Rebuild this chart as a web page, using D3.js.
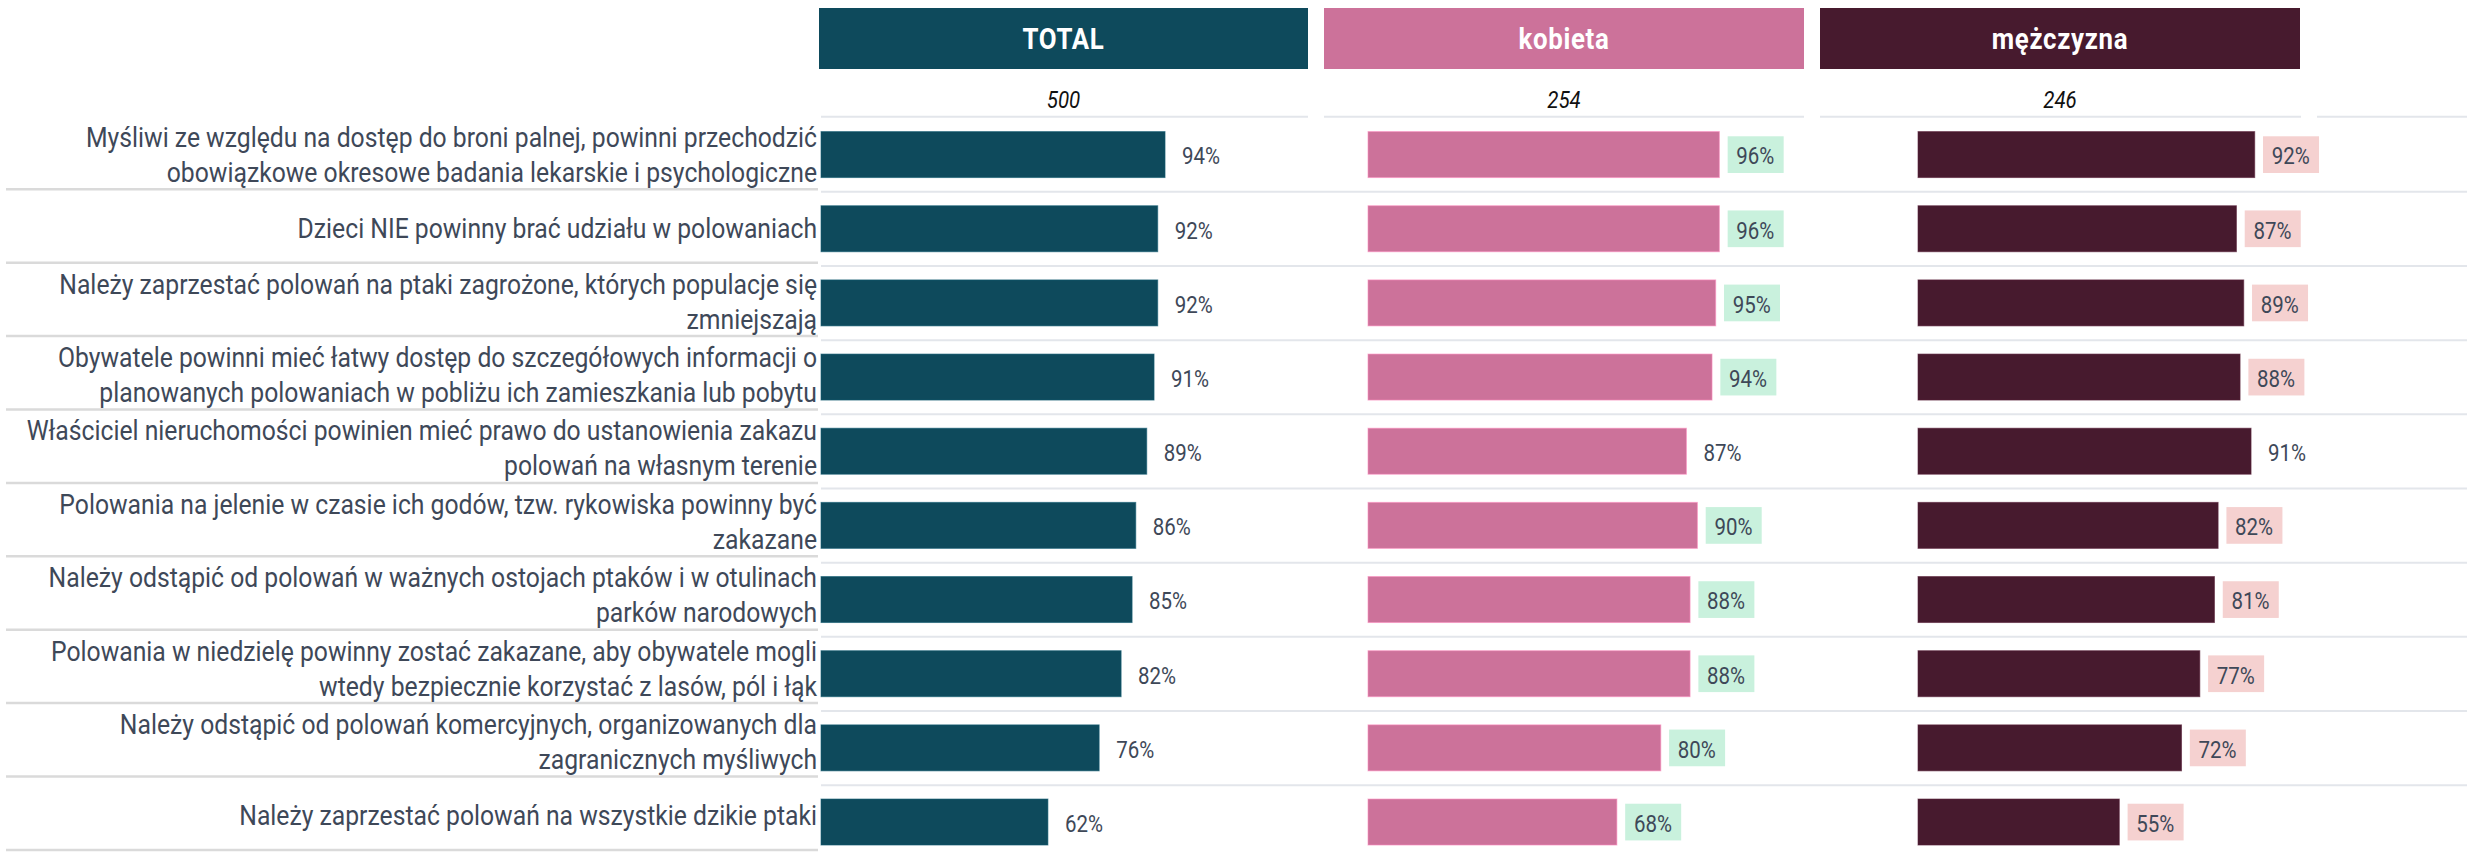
<!DOCTYPE html>
<html><head><meta charset="utf-8">
<script src="https://cdn.jsdelivr.net/npm/d3@7"></script>
<style>html,body{margin:0;padding:0;background:#fff;} svg{display:block;font-family:Roboto, "Noto Sans", sans-serif;}</style>
</head><body><svg id="c" width="2479" height="855"></svg>
<script>
// ---- data ----
const categories = [
  ["Myśliwi ze względu na dostęp do broni palnej, powinni przechodzić", "obowiązkowe okresowe badania lekarskie i psychologiczne"],
  ["Dzieci NIE powinny brać udziału w polowaniach"],
  ["Należy zaprzestać polowań na ptaki zagrożone, których populacje się", "zmniejszają"],
  ["Obywatele powinni mieć łatwy dostęp do szczegółowych informacji o", "planowanych polowaniach w pobliżu ich zamieszkania lub pobytu"],
  ["Właściciel nieruchomości powinien mieć prawo do ustanowienia zakazu", "polowań na własnym terenie"],
  ["Polowania na jelenie w czasie ich godów, tzw. rykowiska powinny być", "zakazane"],
  ["Należy odstąpić od polowań w ważnych ostojach ptaków i w otulinach", "parków narodowych"],
  ["Polowania w niedzielę powinny zostać zakazane, aby obywatele mogli", "wtedy bezpiecznie korzystać z lasów, pól i łąk"],
  ["Należy odstąpić od polowań komercyjnych, organizowanych dla", "zagranicznych myśliwych"],
  ["Należy zaprzestać polowań na wszystkie dzikie ptaki"]
];
const groups = ["TOTAL", "kobieta", "mężczyzna"];
const baseN = [500, 254, 246];
const totalValues = [94, 92, 92, 91, 89, 86, 85, 82, 76, 62];
const kobietaValues = [96, 96, 95, 94, 87, 90, 88, 88, 80, 68];
const mezczyznaValues = [92, 87, 89, 88, 91, 82, 81, 77, 72, 55];
// significance vs total: "up" = higher, "down" = lower, null = none
const kobietaSig = ["up", "up", "up", "up", null, "up", "up", "up", "up", "up"];
const mezczyznaSig = ["down", "down", "down", "down", null, "down", "down", "down", "down", "down"];

// ---- styles / layout ----
const groupColors = ["#0e4a5c", "#cc729a", "#471a2e"];
const sigColors = { up: "#c9f1dd", down: "#f5d1d0" };
const condense = 0.89;
const textColor = "#3e4858";
const colX0 = [821, 1324, 1820, 2317];
const colX1 = [1308, 1804, 2301, 2467];
const headX0 = [819, 1324, 1820];
const headX1 = [1308, 1804, 2300];
const barStart = [821, 1368, 1918];
const labelRight = 817;

const series = [totalValues, kobietaValues, mezczyznaValues];
const sigs = [null, kobietaSig, mezczyznaSig];

const svg = d3.select("#c");
const x = d3.scaleLinear().domain([0, 100]).range([0, 366]);
const yBar = d3.scaleBand().domain(d3.range(categories.length)).range([117.5, 117.5 + 74.16 * categories.length]).padding(0);
const yLab = d3.scaleBand().domain(d3.range(categories.length)).range([115.9, 115.9 + 73.4 * categories.length]).padding(0);
const barH = 46;

function ctext(sel, tx, ty, k) {
  return sel.append("text").attr("transform", `translate(${tx},${ty}) scale(${k || condense},1)`);
}

// header boxes
groups.forEach((g, i) => {
  svg.append("rect").attr("x", headX0[i]).attr("y", 8).attr("width", headX1[i] - headX0[i]).attr("height", 61).attr("fill", groupColors[i]);
  ctext(svg, (headX0[i] + headX1[i]) / 2, 49.3).attr("text-anchor", "middle").attr("fill", "#fff")
    .attr("font-size", 29).attr("font-weight", 700).attr("letter-spacing", 0.8).text(g);
  ctext(svg, (headX0[i] + headX1[i]) / 2, 108).attr("text-anchor", "middle").attr("fill", "#111")
    .attr("font-size", 23).attr("font-style", "italic").text(baseN[i]);
});

// header lines (segmented per column)
colX0.forEach((c, i) => {
  svg.append("line").attr("x1", c).attr("x2", colX1[i]).attr("y1", 116.7).attr("y2", 116.7)
    .attr("stroke", "#e3e6eb").attr("stroke-width", 2);
});

// bar-area row separators
d3.range(categories.length - 1).forEach(k => {
  const yy = yBar(k) + yBar.step() + 0.2;
  svg.append("line").attr("x1", 821).attr("x2", 2467).attr("y1", yy).attr("y2", yy)
    .attr("stroke", "#e3e6eb").attr("stroke-width", 2);
});

// label separators
categories.forEach((c, k) => {
  const yy = yLab(k) + yLab.step();
  svg.append("line").attr("x1", 6).attr("x2", 818).attr("y1", yy).attr("y2", yy)
    .attr("stroke", "#dadada").attr("stroke-width", 2.5);
});

// labels
categories.forEach((lines, k) => {
  const cy = yLab(k) + yLab.step() / 2;
  lines.forEach((ln, j) => {
    const by = cy + (j - (lines.length - 1) / 2) * 35 + 11.6;
    ctext(svg, labelRight, by, 0.883).attr("text-anchor", "end").attr("fill", textColor)
      .attr("font-size", 28).text(ln);
  });
});

// bars
series.forEach((vals, i) => {
  const g = svg.append("g");
  vals.forEach((v, k) => {
    const yy = yBar(k) + (yBar.step() - barH) / 2;
    const cy = yy + barH / 2;
    const x0 = barStart[i];
    const xe = x0 + x(v);
    g.append("rect").attr("x", x0).attr("y", yy).attr("width", x(v)).attr("height", barH)
      .attr("fill", groupColors[i]).attr("stroke", d3.color(groupColors[i]).brighter(0.6)).attr("stroke-width", 1).attr("stroke-opacity", 0.6);
    const s = sigs[i] ? sigs[i][k] : null;
    let rect = null;
    if (s) rect = g.append("rect");
    const t = ctext(g, xe + 17, cy + 9.8).attr("fill", textColor).attr("font-size", 23).text(v + "%");
    if (rect) {
      const w = t.node().getComputedTextLength() * condense;
      rect.attr("x", xe + 8.3).attr("y", cy - 18.3).attr("width", w + 18).attr("height", 36.7).attr("fill", sigColors[s]);
    }
  });
});
</script></body></html>
